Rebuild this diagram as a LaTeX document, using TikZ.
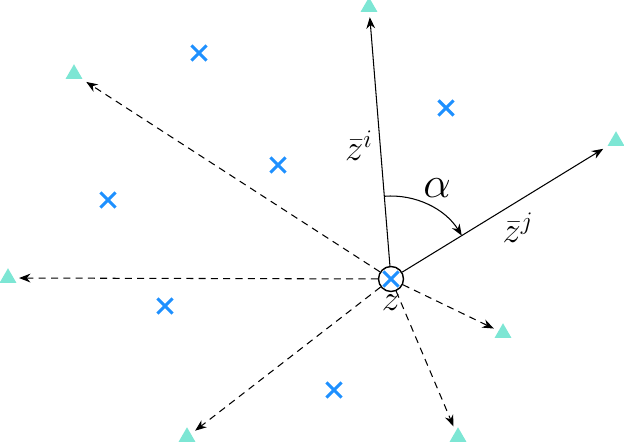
\documentclass[tikz,border=0pt]{standalone}
\usepackage{amsmath}
\usepackage{amssymb}
\usepackage{tikz}
\usetikzlibrary{shapes.geometric,shapes.misc,arrows.meta}
\definecolor{crossblue}{RGB}{30,144,255}
\definecolor{tipgreen}{RGB}{125,230,212}

\begin{document}
\begin{tikzpicture}[
   x=0.02cm,y=0.02cm,
   tip/.style={regular polygon,regular polygon sides=3,fill=tipgreen,inner sep=0pt,minimum size=0.39cm},
   pt/.style={cross out,draw=crossblue,line width=1.8pt,inner sep=0pt,minimum size=0.24cm},
   origin/.style={circle,draw,thick,fill=white,inner sep=0pt,minimum size=0.5cm},
   ray/.style={-{Stealth[length=6.5pt,width=5pt]},semithick,shorten >=0.1cm},
   dray/.style={ray,dash pattern=on 4pt off 3pt},
   angarc/.style={-{Stealth[length=6.5pt,width=5pt]},semithick},
   every node/.style={font=\huge}]
\useasboundingbox (0,0) rectangle (624,442);
% end points
\node[tip] (T1) at (369,435) {};
\node[tip] (T2) at (74,368) {};
\node[tip] (T3) at (8,164) {};
\node[tip] (T4) at (187,5) {};
\node[tip] (T5) at (458,5) {};
\node[tip] (T6) at (503,109) {};
\node[tip] (T7) at (616,301) {};
% samples
\node[pt] (X1) at (199,389) {};
\node[pt] (X2) at (446,334) {};
\node[pt] (X3) at (278,277) {};
\node[pt] (X4) at (108,242) {};
\node[pt] (X5) at (165,136) {};
\node[pt] (X6) at (334,52) {};
% query point
\node[origin] (Z) at (391,163) {};
\node[pt] (X0) at (Z) {};
\draw[ray]  (Z) -- (T1);
\draw[ray]  (Z) -- (T7);
\draw[dray] (Z) -- (T2);
\draw[dray] (Z) -- (T3);
\draw[dray] (Z) -- (T4);
\draw[dray] (Z) -- (T5);
\draw[dray] (Z) -- (T6);
\draw[angarc] (Z.center) ++(94.6:1.66cm) arc[start angle=94.6,end angle=31.5,radius=1.66cm];
\node (Li) at (359,296) {$\bar{z}^i$};
\node[font=\Huge] (La) at (437,254) {$\alpha$};
\node (Lj) at (518,214) {$\bar{z}^j$};
\node (Lz) at (391,139) {$z$};
\end{tikzpicture}
\end{document}
